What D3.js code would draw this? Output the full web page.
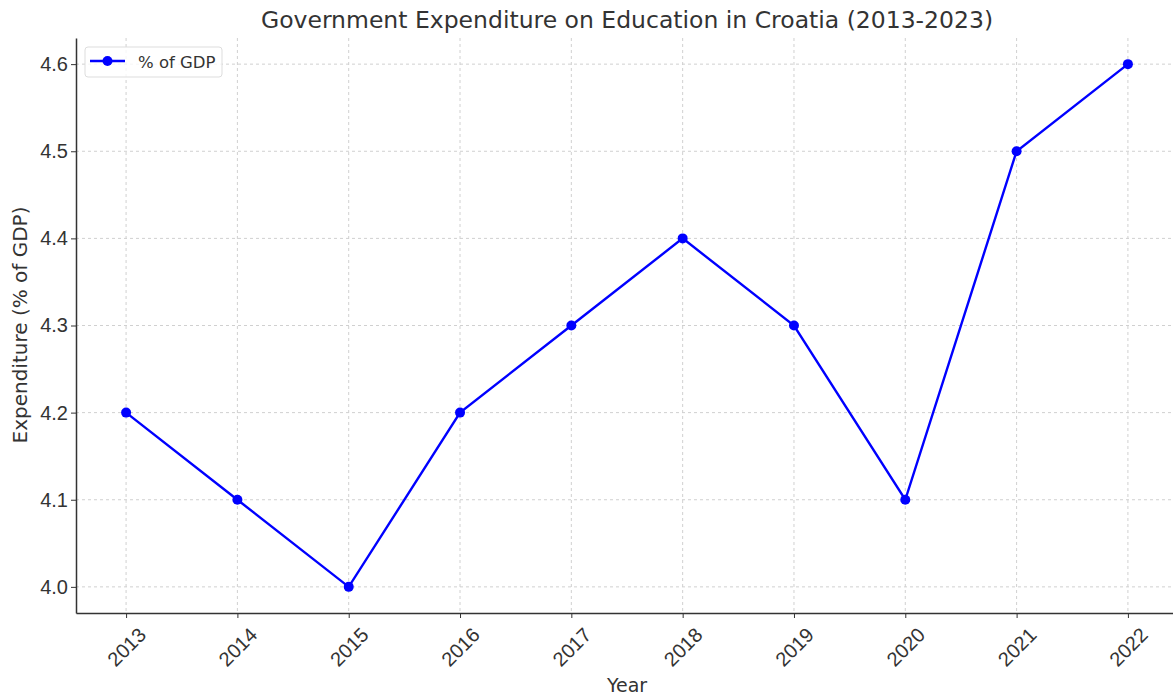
<!DOCTYPE html>
<html><head><meta charset="utf-8">
<script src="https://cdn.jsdelivr.net/npm/d3@7"></script>
<style>body{margin:0;background:#fff;} svg{display:block;font-family:"DejaVu Sans",sans-serif;}</style>
</head><body>
<svg id="c" width="1173" height="695"></svg>
<script>
const years = [2013,2014,2015,2016,2017,2018,2019,2020,2021,2022];
const values = [4.2,4.1,4.0,4.2,4.3,4.4,4.3,4.1,4.5,4.6];
const yTicks = [4.0,4.1,4.2,4.3,4.4,4.5,4.6];
const title = "Government Expenditure on Education in Croatia (2013-2023)";
const seriesName = "% of GDP";

const svg = d3.select("#c");
const m = {l:76, r:1178, t:38, b:613};
const x = d3.scaleLinear().domain([2012.55, 2022.45]).range([m.l, m.r]);
const y = d3.scaleLinear().domain([3.97, 4.63]).range([m.b, m.t]);
const txt = "#333";

// grid
const g = svg.append("g");
g.selectAll(".vg").data(years).join("line")
  .attr("x1", d=>x(d)).attr("x2", d=>x(d)).attr("y1", m.t).attr("y2", m.b)
  .attr("stroke","#d0d0d0").attr("stroke-width",1).attr("stroke-dasharray","3,3");
g.selectAll(".hg").data(yTicks).join("line")
  .attr("x1", m.l).attr("x2", m.r).attr("y1", d=>y(d)).attr("y2", d=>y(d))
  .attr("stroke","#d0d0d0").attr("stroke-width",1).attr("stroke-dasharray","3,3");

// axes
const xAxis = d3.axisBottom(x).tickValues(years).tickFormat(d3.format("d")).tickSize(5).tickSizeOuter(0);
const xa = svg.append("g").attr("transform",`translate(0,${m.b})`).call(xAxis);
xa.select(".domain").attr("stroke","#333").attr("stroke-width",1.5);
xa.selectAll(".tick line").attr("stroke","#333");
xa.selectAll(".tick text").attr("fill",txt).style("font-size","20px")
  .attr("text-anchor","middle").attr("dy",null).attr("y",null)
  .attr("transform","translate(0,34) rotate(-45)").attr("dominant-baseline","central");

const yAxis = d3.axisLeft(y).tickValues(yTicks).tickFormat(d3.format(".1f")).tickSize(5).tickSizeOuter(0);
const ya = svg.append("g").attr("transform",`translate(${m.l},0)`).call(yAxis);
ya.select(".domain").attr("stroke","#333").attr("stroke-width",1.5);
ya.selectAll(".tick line").attr("stroke","#333");
ya.selectAll(".tick text").attr("fill",txt).style("font-size","20px").attr("x",-8);

// line
svg.append("path").datum(years.map((yr,i)=>[yr,values[i]]))
  .attr("d", d3.line().x(d=>x(d[0])).y(d=>y(d[1])))
  .attr("fill","none").attr("stroke","#0000ff").attr("stroke-width",2.4);
svg.selectAll(".pt").data(years.map((yr,i)=>[yr,values[i]])).join("circle")
  .attr("cx",d=>x(d[0])).attr("cy",d=>y(d[1])).attr("r",5).attr("fill","#0000ff");

// labels
svg.append("text").attr("x",627).attr("y",28).attr("text-anchor","middle")
  .attr("fill",txt).style("font-size","23.5px").text(title);
svg.append("text").attr("x",627).attr("y",692).attr("text-anchor","middle")
  .attr("fill",txt).style("font-size","19px").text("Year");
svg.append("text").attr("transform","translate(27,325) rotate(-90)").attr("text-anchor","middle")
  .attr("fill",txt).style("font-size","20px").text("Expenditure (% of GDP)");

// legend
const lg = svg.append("g");
lg.append("rect").attr("x",85).attr("y",47).attr("width",137).attr("height",30).attr("rx",3)
  .attr("fill","#fff").attr("fill-opacity",0.8).attr("stroke","#ddd");
lg.append("line").attr("x1",90).attr("x2",125).attr("y1",61).attr("y2",61).attr("stroke","#0000ff").attr("stroke-width",2.4);
lg.append("circle").attr("cx",107.5).attr("cy",61).attr("r",5).attr("fill","#0000ff");
lg.append("text").attr("x",138).attr("y",62).attr("dominant-baseline","central")
  .attr("fill",txt).style("font-size","16.5px").text(seriesName);
</script>
</body></html>
